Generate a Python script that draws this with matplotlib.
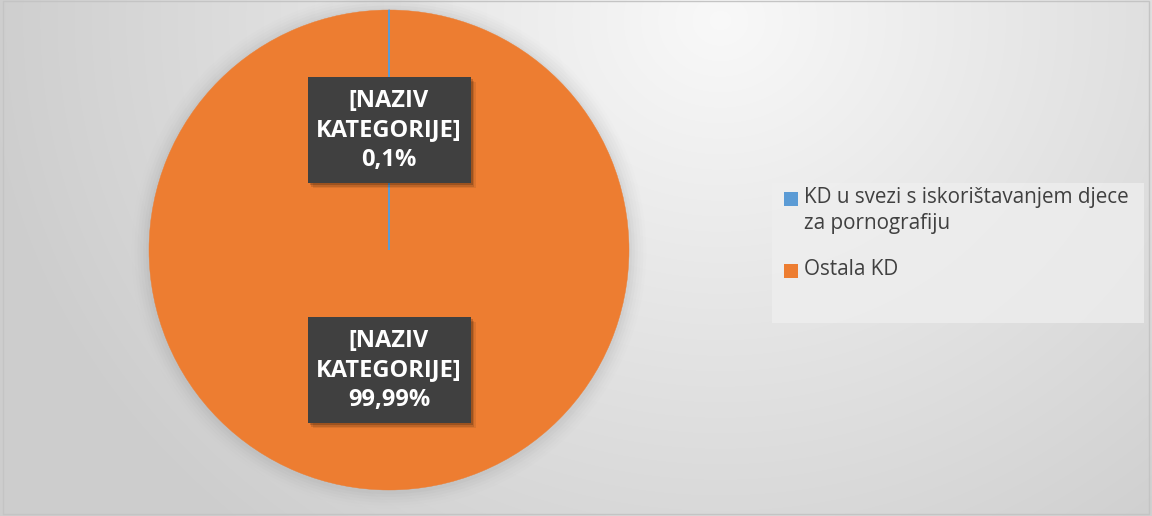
import numpy as np
import matplotlib
matplotlib.use("Agg")
import matplotlib.pyplot as plt
from matplotlib.patches import Rectangle, Circle

categories = ["KD u svezi s iskorištavanjem djece\nza pornografiju", "Ostala KD"]
values = [0.01, 99.99]
label_texts = ["[NAZIV\nKATEGORIJE]\n0,1%", "[NAZIV\nKATEGORIJE]\n99,99%"]
colors = ["#5B9BD5", "#ED7D31"]

W, H = 1152, 516
fig = plt.figure(figsize=(W / 100, H / 100), dpi=100)

# background gradient
bg = fig.add_axes([0, 0, 1, 1])
yy, xx = np.mgrid[0:H, 0:W]
d = np.sqrt(((xx - 720) / 620.0) ** 2 + ((yy - 20) / 560.0) ** 2)
val = 0.975 - 0.17 * np.clip(d, 0, 1.2) / 1.2
img = np.dstack([val, val, val])
bg.imshow(img, extent=[0, W, H, 0], aspect="auto", interpolation="bilinear")
bg.set_xlim(0, W)
bg.set_ylim(H, 0)
bg.axis("off")
bg.add_patch(Rectangle((3, 1), W - 6, H - 3, fill=False, edgecolor="#c4c4c4", lw=1.0))

# pie axes
cx, cy, R = 389, 250, 240
ax = fig.add_axes([(cx - R) / W, (H - cy - R) / H, 2 * R / W, 2 * R / H])

# soft shadow around pie
for i, a in enumerate(np.linspace(0.05, 0.01, 6)):
    ax.add_patch(Circle((0, -0.005), 1.0 + 0.012 * (i + 1), color="#808080", alpha=a,
                        lw=0, zorder=0, clip_on=False))

wedges, _ = ax.pie(values, colors=colors, startangle=90, counterclock=False, radius=1.0,
                   wedgeprops=dict(edgecolor="#ED7D31", linewidth=0.3))
wedges[0].set_edgecolor(colors[0])
wedges[0].set_linewidth(1.0)
wedges[0].set_zorder(3)
ax.set_xlim(-1, 1)
ax.set_ylim(-1, 1)
ax.set_aspect("equal")
ax.axis("off")

# data labels
bw, bh = 163 / R, 106 / R
for txt, yc in zip(label_texts, [0.5, -0.5]):
    for k, (dx, a) in enumerate([(0.022, 0.08), (0.016, 0.12), (0.010, 0.18)]):
        ax.add_patch(Rectangle((-bw / 2 + dx, yc - bh / 2 - dx), bw, bh, color="#000000",
                               alpha=a, lw=0, zorder=4))
    ax.add_patch(Rectangle((-bw / 2, yc - bh / 2), bw, bh, color="#404040", lw=0, zorder=5))
    ax.text(0, yc - 0.002, txt, ha="center", va="center", color="white", fontsize=17,
            fontweight="bold", family=["Open Sans", "DejaVu Sans"], linespacing=1.32, zorder=6)

# legend (drawn in pixel coords of the background axes)
bg.add_patch(Rectangle((772, 183), 372, 140, color="#efefef", alpha=0.75, lw=0, zorder=2))
entry_y = [199, 271]
for name, col, y0 in zip(categories, colors, entry_y):
    bg.add_patch(Rectangle((784, y0 - 7), 14, 14, color=col, lw=0, zorder=3))
    bg.text(804, y0 - 12, name, ha="left", va="top", color="#404040", fontsize=14.9,
            family=["Open Sans", "DejaVu Sans"], linespacing=1.33, zorder=3)

fig.savefig("out.png", dpi=100)
